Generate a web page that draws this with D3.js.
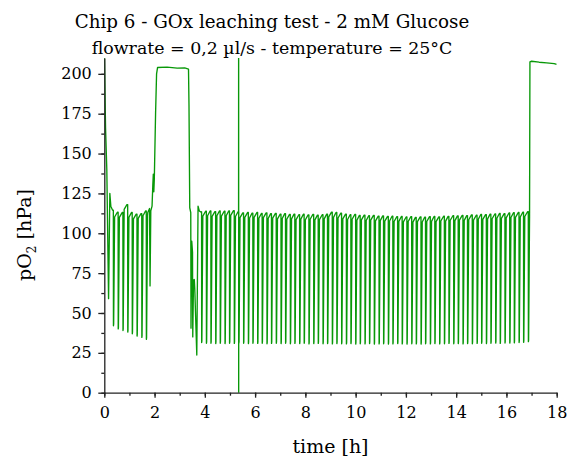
<!DOCTYPE html>
<html>
<head>
<meta charset="utf-8">
<script src="https://cdn.jsdelivr.net/npm/d3@7/dist/d3.min.js"></script>
<style>
    body { margin: 0; background: #fff; }
    text { font-family: "DejaVu Serif", serif; fill: #000; }
    .axis path, .axis line { stroke: #222; stroke-width: 1.3; }
    .axis text { font-size: 16px; font-family: "DejaVu Serif", serif; }
</style>
</head>
<body>
<div id="vis"></div>
<script>
// Chart values (time in h, pO2 in hPa)
let titleLines = ['Chip 6 - GOx leaching test - 2 mM Glucose', 'flowrate = 0,2 \u00b5l/s - temperature = 25\u00b0C'];
let xTicks = [0, 2, 4, 6, 8, 10, 12, 14, 16, 18];
let yTicks = [0, 25, 50, 75, 100, 125, 150, 175, 200];

// start of the run, sensor settling
let startTrace = [[0, 215], [0.02, 196], [0.05, 166], [0.10, 140], [0.17, 59], [0.22, 125], [0.26, 117], [0.33, 114.5]];

// first series of glucose pulses
let drops1 = [0.36, 0.55, 0.74, 0.93, 1.11, 1.30, 1.49, 1.67];
let peaks1 = [114.5, 113.2, 113, 118, 113, 112, 112.3, 114];
let lows1 = [42, 40, 39, 38, 37, 35.5, 34.7, 33.5];

// air-saturated plateau and restart
let middleTrace = [[1.73, 113], [1.80, 115.5], [1.82, 67], [1.85, 114], [1.90, 117], [1.93, 130], [1.95, 137], [1.97, 126],
    [1.99, 134], [2.04, 175], [2.08, 200], [2.12, 204], [2.5, 204.2], [2.9, 203.6], [3.2, 203.7], [3.35, 203], [3.37, 180],
    [3.40, 116], [3.44, 113], [3.45, 40.5], [3.48, 95], [3.51, 88], [3.52, 35], [3.55, 70.7], [3.58, 71], [3.60, 65],
    [3.68, 23.6], [3.73, 117], [3.78, 114], [3.84, 113.3]];

// second series of glucose pulses
let drops2 = [3.87, 4.06, 4.24, 4.43, 4.61, 4.80, 4.98, 5.17, 5.35, 5.54, 5.73, 5.91, 6.10, 6.28, 6.47, 6.65, 6.84, 7.03,
    7.21, 7.40, 7.58, 7.77, 7.95, 8.14, 8.33, 8.51, 8.70, 8.88, 9.07, 9.25, 9.44, 9.63, 9.81, 10.00, 10.18, 10.37, 10.55,
    10.74, 10.93, 11.11, 11.30, 11.48, 11.67, 11.85, 12.04, 12.23, 12.41, 12.60, 12.78, 12.97, 13.15, 13.34, 13.53, 13.71,
    13.90, 14.08, 14.27, 14.45, 14.64, 14.83, 15.01, 15.20, 15.38, 15.57, 15.75, 15.94, 16.13, 16.31, 16.50, 16.68, 16.87];
let peaks2 = [113.5, 113.8, 114, 113.6, 114, 113.8, 114, 114.2, 113.5,
    112.8, 113, 112.6, 113, 112.4, 112.8, 112.3, 112.5,
    112, 112.3, 111.8, 112, 111.6, 111.9, 111.5, 111.8, 111.4, 111.6, 112,
    113.3, 113, 112.6,
    112, 111.6, 111.8, 111.2, 111.4, 111, 111.2, 110.8, 110.9, 110.6, 110.7, 110.4, 110.5,
    110.2, 110.4, 110, 110.3, 110.1, 110.4, 110.5, 110.3, 110.7, 110.6, 111, 110.9,
    111.2, 111.1, 111.5, 111.3, 111.8, 111.7, 112, 112.1, 112.4, 112.3, 112.7, 112.9, 113, 113.2, 113.5];
let lows2 = [31.5, 31, 31, 30.8, 31, 30.8, 31, 30.9, 31,
    31, 30.8, 31, 30.9, 31, 30.7, 30.9, 31,
    30.8, 31, 30.7, 30.9, 30.8, 31, 30.6, 30.8, 30.9, 30.7, 30.8,
    30.6, 30.8, 30.7,
    30.6, 30.8, 30.5, 30.7, 30.6, 30.8, 30.5, 30.6, 30.7, 30.5, 30.6, 30.8, 30.6,
    30.5, 30.7, 30.6, 30.5, 30.7, 30.6, 30.8, 30.6, 30.7, 30.9, 30.7, 30.8,
    30.6, 30.8, 30.7, 30.9, 31, 30.8, 31, 31.1, 30.9, 31.2, 31.1, 31.3, 31.5, 31.6, 32];

// short artefact spike at ~5.35 h
let spikeTrace = [[5.343, 113.5], [5.345, 260], [5.347, -20], [5.349, 113]];

// end of run, back to air
let endTrace = [[16.92, 112], [16.935, 207.5], [17.0, 207.9], [17.3, 207.3], [17.6, 206.9], [17.9, 206.4], [18.0, 205.9]];

// Margin and plot size
let margin = { left: 104.3, top: 57.9, right: 11.3, bottom: 68.3 };
let totalWidth = 568, totalHeight = 461;
let width = totalWidth - margin.left - margin.right;
let height = totalHeight - margin.top - margin.bottom;

let svg = d3.select('#vis')
    .append('svg')
    .attr('width', totalWidth)
    .attr('height', totalHeight);

let xScale = d3.scaleLinear().domain([0, 18]).range([0, width]);
let yScale = d3.scaleLinear().domain([0, 210]).range([height, 0]);

let g = svg.append('g')
    .attr('transform', `translate(${margin.left}, ${margin.top})`);

// Turn one pulse series into line points: fast drop, fast rise, slow creep to next peak
let pulses = (drops, peaks, lows) => {
    let pts = [];
    drops.forEach((t, i) => {
        let last = i === drops.length - 1;
        let nextPeak = last ? peaks[i] : peaks[i + 1];
        pts.push([t, peaks[i]], [t + 0.004, lows[i]], [t + 0.012, lows[i] + 1], [t + 0.05, nextPeak - 3]);
        if (!last) pts.push([drops[i + 1] - 0.03, nextPeak]);
    });
    return pts;
};

let trace = [].concat(startTrace, pulses(drops1, peaks1, lows1), middleTrace,
    pulses(drops2, peaks2, lows2), spikeTrace, endTrace)
    .sort((a, b) => a[0] - b[0]);

svg.append('clipPath')
    .attr('id', 'plotClip')
    .append('rect')
    .attr('x', 0)
    .attr('y', 0)
    .attr('width', width)
    .attr('height', height);

let line = d3.line()
    .x(d => xScale(d[0]))
    .y(d => yScale(d[1]));

g.append('path')
    .datum(trace)
    .attr('clip-path', 'url(#plotClip)')
    .attr('fill', 'none')
    .attr('stroke', '#089808')
    .attr('stroke-width', 1.35)
    .attr('stroke-linejoin', 'round')
    .attr('d', line);

// Axes, with minor ticks underneath
let minorX = d3.range(0, 19, 1);
let minorY = d3.range(0, 210, 12.5);

g.append('g')
    .attr('class', 'axis')
    .attr('transform', `translate(0, ${height})`)
    .call(d3.axisBottom(xScale).tickValues(minorX).tickSize(3).tickFormat(''))
    .call(a => a.select('.domain').remove());

g.append('g')
    .attr('class', 'axis')
    .call(d3.axisLeft(yScale).tickValues(minorY).tickSize(3).tickFormat(''))
    .call(a => a.select('.domain').remove());

g.append('g')
    .attr('class', 'axis')
    .attr('transform', `translate(0, ${height})`)
    .call(d3.axisBottom(xScale).tickValues(xTicks).tickSize(5).tickSizeOuter(0).tickPadding(9.3).tickFormat(d3.format('d')));

g.append('g')
    .attr('class', 'axis')
    .call(d3.axisLeft(yScale).tickValues(yTicks).tickSize(6).tickSizeOuter(0).tickPadding(6.5).tickFormat(d3.format('d')));

// Titles
svg.selectAll('.title')
    .data(titleLines)
    .enter()
    .append('text')
    .attr('class', 'title')
    .attr('x', 272)
    .attr('y', (d, i) => 28 + i * 26)
    .attr('text-anchor', 'middle')
    .style('font-size', (d, i) => i === 0 ? '18.3px' : '17.4px')
    .text(d => d);

svg.append('text')
    .attr('x', margin.left + width / 2)
    .attr('y', 453)
    .attr('text-anchor', 'middle')
    .style('font-size', '19px')
    .text('time [h]');

let yLabel = svg.append('text')
    .attr('transform', `translate(31, 235) rotate(-90)`)
    .attr('text-anchor', 'middle')
    .style('font-size', '19px');
yLabel.append('tspan').text('pO');
yLabel.append('tspan').attr('dy', 5).style('font-size', '12px').text('2');
yLabel.append('tspan').attr('dy', -5).text(' [hPa]');
</script>
</body>
</html>
